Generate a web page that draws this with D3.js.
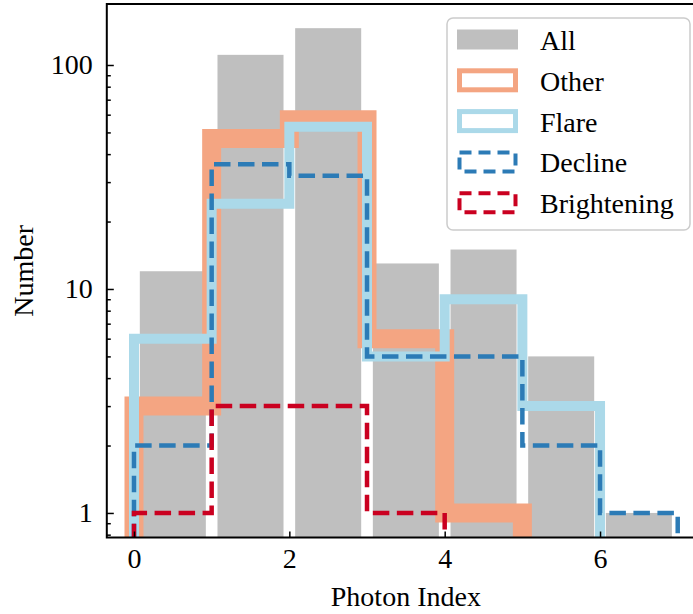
<!DOCTYPE html>
<html>
<head>
<meta charset="utf-8">
<script src="https://cdn.jsdelivr.net/npm/d3@7"></script>
<style>
  body { margin: 0; background: #fff; }
  svg { display: block; }
</style>
</head>
<body>
<div id="chart"></div>
<script>
// histogram bins (photon index) and counts per class
const binEdges = [0, 1, 2, 3, 4, 5, 6, 7];
const allCounts = [12, 111, 146, 13, 15, 5, 1];
const otherCounts = [3, 47, 57, 6, 1, 0, 0];
const flareCounts = [6, 24, 53, 5, 9, 3, 0];
const declineCounts = [2, 36, 32, 5, 5, 2, 1];
const brighteningCounts = [1, 3, 3, 1, 0, 0, 0];
const xTicks = [0, 2, 4, 6];
const yTicks = [1, 10, 100];
const legendLabels = ['All', 'Other', 'Flare', 'Decline', 'Brightening'];

const width = 693, height = 614;
const plot = {left: 106.8, right: 704.9, top: 4, bottom: 537.5};
const font = "'Liberation Serif', 'Times New Roman', serif";
const fontSize = 28;

const svg = d3.select('#chart').append('svg').attr('width', width).attr('height', height);

const x = d3.scaleLinear().domain([-0.35, 7.35]).range([plot.left, plot.right]);
const y = d3.scaleLog().domain([0.777, 187.2]).range([plot.bottom, plot.top]);

svg.append('defs').append('clipPath').attr('id', 'plotClip')
  .append('rect')
  .attr('x', plot.left).attr('y', plot.top)
  .attr('width', plot.right - plot.left).attr('height', plot.bottom - plot.top);

const area = svg.append('g').attr('clip-path', 'url(#plotClip)');

// gray bars, rwidth 0.85
const rwidth = 0.85;
const bars = allCounts.map(function (v, i) {
  const w = (binEdges[i + 1] - binEdges[i]) * rwidth;
  const c = (binEdges[i] + binEdges[i + 1]) / 2;
  return {x0: c - w / 2, x1: c + w / 2, v: v};
});
area.append('g').selectAll('rect').data(bars).enter().append('rect')
  .attr('x', function (d) { return x(d.x0); })
  .attr('y', function (d) { return y(d.v); })
  .attr('width', function (d) { return x(d.x1) - x(d.x0); })
  .attr('height', function (d) { return plot.bottom - y(d.v); })
  .style('fill', '#bfbfbf');

// step outline, zero bins sent far below the axis and clipped
const floor = 0.05;
function stepPoints(counts) {
  const pts = [[binEdges[0], floor]];
  counts.forEach(function (v, i) {
    const vv = v > 0 ? v : floor;
    pts.push([binEdges[i], vv]);
    pts.push([binEdges[i + 1], vv]);
  });
  pts.push([binEdges[binEdges.length - 1], floor]);
  return pts;
}
const line = d3.line().x(function (d) { return x(d[0]); }).y(function (d) { return y(d[1]); });

const series = [
  {counts: otherCounts, color: '#f4a582', width: 19, dash: null},
  {counts: flareCounts, color: '#abd9e9', width: 10, dash: null},
  {counts: declineCounts, color: '#2c7bb6', width: 4.5, dash: '16.5,7.5'},
  {counts: brighteningCounts, color: '#ca0020', width: 4.5, dash: '16.5,7.5'}
];
series.forEach(function (s) {
  area.append('path')
    .attr('d', line(stepPoints(s.counts)))
    .style('fill', 'none')
    .style('stroke', s.color)
    .style('stroke-width', s.width)
    .style('stroke-linejoin', 'miter')
    .style('stroke-linecap', 'butt')
    .style('stroke-dasharray', s.dash);
});

// axes, ticks pointing inward
const minorTicks = [];
[0.1, 1, 10, 100].forEach(function (p) {
  for (let k = 2; k <= 9; k++) {
    const v = p * k;
    if (v > y.domain()[0] && v < y.domain()[1]) minorTicks.push(v);
  }
});

svg.append('g').attr('transform', 'translate(' + plot.left + ',0)')
  .call(d3.axisLeft(y).tickValues(yTicks).tickFormat(d3.format('d')).tickSize(-7).tickPadding(14));
svg.append('g').attr('transform', 'translate(' + plot.left + ',0)')
  .call(d3.axisLeft(y).tickValues(minorTicks).tickFormat('').tickSize(-4));
svg.append('g').attr('transform', 'translate(0,' + plot.bottom + ')')
  .call(d3.axisBottom(x).tickValues(xTicks).tickSize(-6).tickPadding(11));

svg.selectAll('.domain').remove();
svg.selectAll('.tick line').style('stroke', '#000').style('stroke-width', 1.5);
svg.selectAll('.tick text')
  .style('font-family', font).style('font-size', fontSize + 'px').style('fill', '#000');

// spines (right one falls outside the picture)
svg.append('rect')
  .attr('x', plot.left).attr('y', plot.top)
  .attr('width', plot.right - plot.left).attr('height', plot.bottom - plot.top)
  .style('fill', 'none').style('stroke', '#000').style('stroke-width', 2);

svg.append('text')
  .attr('x', (plot.left + plot.right) / 2).attr('y', 606)
  .attr('text-anchor', 'middle')
  .style('font-family', font).style('font-size', fontSize + 'px')
  .text('Photon Index');

svg.append('text')
  .attr('transform', 'translate(33,' + (plot.top + plot.bottom) / 2 + ') rotate(-90)')
  .attr('text-anchor', 'middle')
  .style('font-family', font).style('font-size', fontSize + 'px')
  .text('Number');

// legend
const legend = svg.append('g');
legend.append('rect')
  .attr('x', 447).attr('y', 18).attr('width', 243).attr('height', 212).attr('rx', 6)
  .style('fill', '#fff').style('fill-opacity', 0.8)
  .style('stroke', '#cccccc').style('stroke-width', 1.5);

const handles = [
  {fill: '#bfbfbf', stroke: 'none', width: 0, dash: null},
  {fill: 'none', stroke: '#f4a582', width: 5, dash: null},
  {fill: 'none', stroke: '#abd9e9', width: 5, dash: null},
  {fill: 'none', stroke: '#2c7bb6', width: 4, dash: '12,7'},
  {fill: 'none', stroke: '#ca0020', width: 4, dash: '12,7'}
];
const rows = legend.selectAll('g.row').data(legendLabels).enter().append('g')
  .attr('class', 'row')
  .attr('transform', function (d, i) { return 'translate(0,' + (39.5 + i * 40.8) + ')'; });
rows.append('rect')
  .attr('x', function (d, i) { return i === 0 ? 457 : 459.5; })
  .attr('y', function (d, i) { return i === 0 ? -10 : -9.5; })
  .attr('width', function (d, i) { return i === 0 ? 61 : 56; })
  .attr('height', function (d, i) { return i === 0 ? 20 : 19; })
  .style('fill', function (d, i) { return handles[i].fill; })
  .style('stroke', function (d, i) { return handles[i].stroke; })
  .style('stroke-width', function (d, i) { return handles[i].width; })
  .style('stroke-dasharray', function (d, i) { return handles[i].dash; });
rows.append('text')
  .attr('x', 540).attr('y', 10.5)
  .style('font-family', font).style('font-size', fontSize + 'px')
  .text(function (d) { return d; });
</script>
</body>
</html>
